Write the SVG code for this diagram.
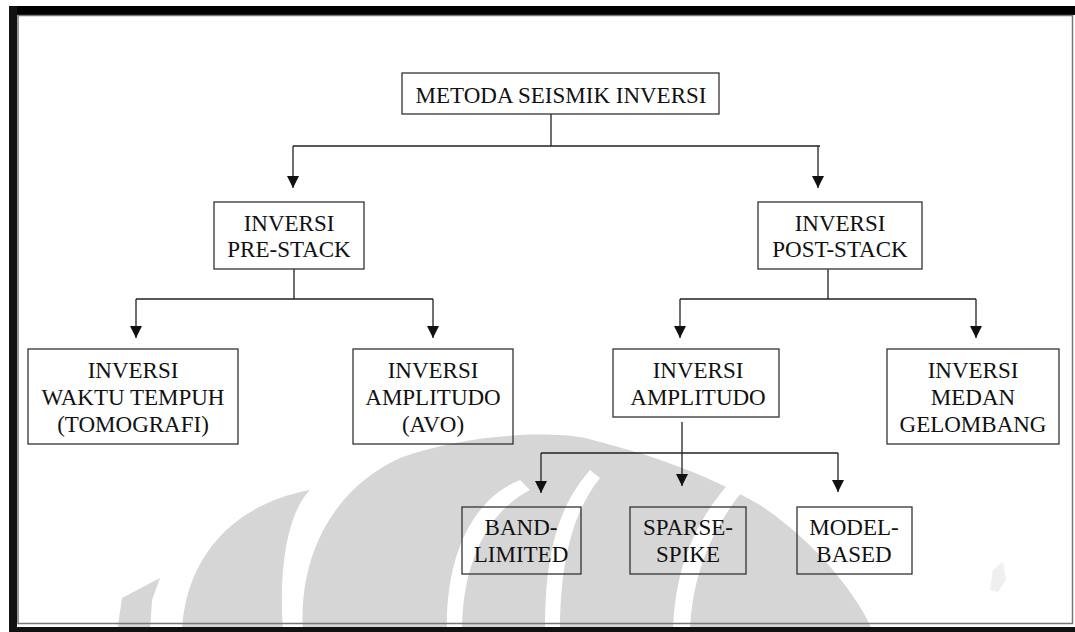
<svg xmlns="http://www.w3.org/2000/svg" width="1075" height="632" viewBox="0 0 1075 632">
<defs>
<marker id="ah" markerUnits="userSpaceOnUse" markerWidth="14" markerHeight="14" viewBox="0 0 14 14" refX="13" refY="7" orient="auto">
<path d="M1,1 L13,7 L1,13 Z" fill="#111"/>
</marker>
<style>
.box{fill:none;stroke:#333;stroke-width:1.3}
.t{font-family:"Liberation Serif","Times New Roman",serif;font-size:23px;fill:#111;text-anchor:middle}
.c{fill:none;stroke:#222;stroke-width:1.3}
.wm{fill:#d6d6d6}
</style>
</defs>
<rect x="0" y="0" width="1075" height="632" fill="#fff"/>
<g id="watermark">
<path class="wm" d="M117,632 L122,598 L160,578 L152,600 L150,632 Z"/>
<path class="wm" d="M182,632 C185,560 230,505 310,490 C290,510 278,560 283,632 Z"/>
<path class="wm" d="M303,632 C298,560 330,490 400,458 C460,436 540,430 585,438 C640,452 700,470 760,505 C820,545 860,600 873,632 Z"/>
<path fill="#fff" d="M447,632 C445,560 470,500 520,480 L530,490 C490,510 462,560 462,632 Z"/>
<path fill="#fff" d="M545,632 C545,560 555,510 590,470 L600,478 C570,515 560,570 560,632 Z"/>
<path fill="#fff" d="M673,632 C675,560 700,500 770,445 L780,452 C720,505 692,565 690,632 Z"/>
<path class="wm" d="M990,590 L993,570 L1003,562 L1006,580 L998,592 Z" opacity="0.4"/>
</g>
<g id="frame">
<rect x="9" y="6" width="1066" height="9" fill="#000"/>
<rect x="9" y="6" width="8" height="626" fill="#111"/>
<rect x="9" y="627" width="1066" height="5" fill="#111"/>
<rect x="18" y="15.5" width="1054.5" height="608" fill="none" stroke="#777" stroke-width="1.5"/>
</g>
<g id="connectors">
<path class="c" d="M551,114 V146 M293,146 H820"/>
<path class="c" d="M293,146 V188" marker-end="url(#ah)"/>
<path class="c" d="M818,146 V188" marker-end="url(#ah)"/>
<path class="c" d="M294,269 V299 M136,299 H433"/>
<path class="c" d="M136,299 V338" marker-end="url(#ah)"/>
<path class="c" d="M433,299 V338" marker-end="url(#ah)"/>
<path class="c" d="M828,269 V299 M680,299 H976"/>
<path class="c" d="M680,299 V338" marker-end="url(#ah)"/>
<path class="c" d="M976,299 V338" marker-end="url(#ah)"/>
<path class="c" d="M682,422 V486" marker-end="url(#ah)"/>
<path class="c" d="M541,453 H838"/>
<path class="c" d="M541,453 V493" marker-end="url(#ah)"/>
<path class="c" d="M838,453 V492" marker-end="url(#ah)"/>
</g>
<g id="n-root">
<rect class="box" x="402" y="73" width="317" height="41"/>
<text class="t" x="561" y="103">METODA SEISMIK INVERSI</text>
</g>
<g id="n-prestack">
<rect class="box" x="214" y="202" width="150" height="67"/>
<text class="t" x="289" y="231">INVERSI</text>
<text class="t" x="289" y="257">PRE-STACK</text>
</g>
<g id="n-poststack">
<rect class="box" x="758" y="202" width="164" height="67"/>
<text class="t" x="840" y="231">INVERSI</text>
<text class="t" x="840" y="257">POST-STACK</text>
</g>
<g id="n-waktu">
<rect class="box" x="28" y="349" width="210" height="95"/>
<text class="t" x="133" y="378">INVERSI</text>
<text class="t" x="133" y="405">WAKTU TEMPUH</text>
<text class="t" x="133" y="432">(TOMOGRAFI)</text>
</g>
<g id="n-avo">
<rect class="box" x="353" y="349" width="160" height="95"/>
<text class="t" x="433" y="378">INVERSI</text>
<text class="t" x="433" y="405">AMPLITUDO</text>
<text class="t" x="433" y="432">(AVO)</text>
</g>
<g id="n-amplitudo">
<rect class="box" x="613" y="349" width="166" height="68"/>
<text class="t" x="698" y="378">INVERSI</text>
<text class="t" x="698" y="405">AMPLITUDO</text>
</g>
<g id="n-medan">
<rect class="box" x="887" y="349" width="172" height="95"/>
<text class="t" x="973" y="378">INVERSI</text>
<text class="t" x="973" y="405">MEDAN</text>
<text class="t" x="973" y="432">GELOMBANG</text>
</g>
<g id="n-band">
<rect class="box" x="462" y="507" width="119" height="67"/>
<text class="t" x="521" y="535">BAND-</text>
<text class="t" x="521" y="562">LIMITED</text>
</g>
<g id="n-sparse">
<rect class="box" x="630" y="507" width="116" height="67"/>
<text class="t" x="688" y="535">SPARSE-</text>
<text class="t" x="688" y="562">SPIKE</text>
</g>
<g id="n-model">
<rect class="box" x="797" y="507" width="115" height="67"/>
<text class="t" x="854" y="535">MODEL-</text>
<text class="t" x="854" y="562">BASED</text>
</g>
</svg>
